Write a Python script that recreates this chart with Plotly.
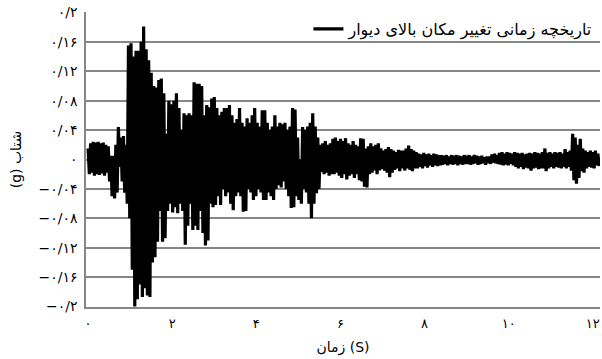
import numpy as np
import plotly.graph_objects as go

# Sampling of the record (s) – one peak every half period
dt = 0.03

# Positive peaks (g), read left to right, one per 0.06 s
peaks_up = [
    0.015, 0.022, 0.024, 0.023, 0.024, 0.022, 0.023, 0.020, 0.018, 0.005,
    0.005, 0.020, 0.044, 0.030, 0.032, 0.020, 0.155, 0.158, 0.140, 0.148,
    0.148, 0.160, 0.181, 0.150, 0.135, 0.118, 0.100, 0.098, 0.108, 0.110,
    0.090, 0.035, 0.080, 0.075, 0.080, 0.090, 0.070, 0.040, 0.063, 0.060,
    0.063, 0.060, 0.105, 0.103, 0.103, 0.100, 0.060, 0.074, 0.071, 0.083,
    0.085, 0.070, 0.060, 0.065, 0.070, 0.070, 0.074, 0.060, 0.050, 0.055,
    0.070, 0.050, 0.045, 0.056, 0.050, 0.060, 0.070, 0.050, 0.045, 0.067,
    0.067, 0.050, 0.040, 0.045, 0.060, 0.045, 0.050, 0.048, 0.050, 0.040,
    0.045, 0.070, 0.068, 0.030, 0.000, 0.044, 0.040, 0.045, 0.050, 0.063,
    0.045, 0.030, 0.020, 0.022, 0.025, 0.020, 0.022, 0.028, 0.030, 0.025,
    0.028, 0.025, 0.029, 0.022, 0.020, 0.025, 0.020, 0.018, 0.029, 0.028,
    0.015, 0.018, 0.022, 0.018, 0.020, 0.022, 0.015, 0.012, 0.014, 0.017,
    0.014, 0.012, 0.010, 0.013, 0.012, 0.012, 0.015, 0.019, 0.014, 0.012,
    0.010, 0.008, 0.007, 0.009, 0.007, 0.008, 0.006, 0.008, 0.007, 0.006,
    0.006, 0.005, 0.006, 0.004, 0.006, 0.005, 0.006, 0.005, 0.004, 0.006,
    0.005, 0.006, 0.004, 0.006, 0.005, 0.004, 0.005, 0.003, 0.004, 0.004,
    0.007, 0.008, 0.006, 0.009, 0.010, 0.008, 0.010, 0.009, 0.008, 0.010,
    0.009, 0.008, 0.009, 0.007, 0.008, 0.009, 0.008, 0.010, 0.009, 0.008,
    0.010, 0.015, 0.009, 0.010, 0.008, 0.010, 0.009, 0.010, 0.008, 0.014,
    0.010, 0.012, 0.035, 0.030, 0.020, 0.028, 0.015, 0.012, 0.010, 0.012,
    0.010, 0.012, 0.008,
]

# Negative peaks (g), one per 0.06 s, between the positive ones
peaks_down = [
    -0.020, -0.018, -0.022, -0.020, -0.021, -0.019, -0.022, -0.018, -0.030, -0.050,
    -0.053, -0.045, -0.010, -0.030, -0.045, -0.060, -0.080, -0.150, -0.200, -0.190,
    -0.170, -0.187, -0.175, -0.185, -0.187, -0.140, -0.133, -0.112, -0.070, -0.112,
    -0.107, -0.070, -0.060, -0.072, -0.065, -0.073, -0.060, -0.070, -0.116, -0.090,
    -0.060, -0.096, -0.090, -0.096, -0.070, -0.100, -0.117, -0.110, -0.060, -0.065,
    -0.062, -0.050, -0.062, -0.040, -0.050, -0.045, -0.060, -0.069, -0.050, -0.045,
    -0.050, -0.071, -0.070, -0.040, -0.045, -0.055, -0.050, -0.040, -0.045, -0.055,
    -0.055, -0.045, -0.050, -0.055, -0.040, -0.035, -0.038, -0.030, -0.040, -0.050,
    -0.066, -0.065, -0.050, -0.055, -0.060, -0.040, -0.045, -0.060, -0.080, -0.060,
    -0.046, -0.040, -0.017, -0.020, -0.018, -0.022, -0.020, -0.020, -0.018, -0.022,
    -0.025, -0.020, -0.027, -0.022, -0.020, -0.025, -0.020, -0.028, -0.030, -0.037,
    -0.038, -0.020, -0.018, -0.015, -0.020, -0.015, -0.013, -0.015, -0.018, -0.024,
    -0.018, -0.014, -0.012, -0.016, -0.012, -0.015, -0.012, -0.014, -0.016, -0.012,
    -0.012, -0.010, -0.012, -0.009, -0.011, -0.008, -0.010, -0.008, -0.009, -0.008,
    -0.007, -0.006, -0.008, -0.006, -0.007, -0.006, -0.008, -0.006, -0.007, -0.006,
    -0.006, -0.007, -0.006, -0.005, -0.007, -0.006, -0.005, -0.007, -0.005, -0.006,
    -0.004, -0.005, -0.006, -0.007, -0.008, -0.007, -0.008, -0.006, -0.008, -0.010,
    -0.012, -0.010, -0.013, -0.011, -0.012, -0.015, -0.012, -0.011, -0.013, -0.012,
    -0.012, -0.016, -0.012, -0.010, -0.012, -0.010, -0.011, -0.012, -0.010, -0.012,
    -0.010, -0.015, -0.028, -0.033, -0.025, -0.016, -0.018, -0.012, -0.010, -0.011,
    -0.012, -0.008, -0.009,
]

x_tick_vals = [0, 2, 4, 6, 8, 10, 12]
x_tick_text = ["۰", "۲", "۴", "۶", "۸", "۱۰", "۱۲"]
y_tick_vals = [0.2, 0.16, 0.12, 0.08, 0.04, 0, -0.04, -0.08, -0.12, -0.16, -0.2]
y_tick_text = ["۰/۲", "۰/۱۶", "۰/۱۲", "۰/۰۸", "۰/۰۴", "۰",
               "−۰/۰۴", "−۰/۰۸", "−۰/۱۲", "−۰/۱۶", "−۰/۲"]

series_name = "تاریخچه زمانی تغییر مکان بالای دیوار"
x_title = "زمان (S)"
y_title = "(g) شتاب"

acc = np.empty(len(peaks_up) + len(peaks_down))
acc[0::2] = peaks_up
acc[1::2] = peaks_down
t = np.arange(len(acc)) * dt

fig = go.Figure()
fig.add_trace(go.Scatter(
    x=t, y=acc, mode="lines", name=series_name,
    line=dict(color="black", width=3.2),
    showlegend=True,
))

font_fam = "DejaVu Sans, Liberation Serif, serif"
fig.update_layout(
    width=602, height=359,
    margin=dict(l=86, r=2, t=12, b=52),
    paper_bgcolor="white", plot_bgcolor="white",
    font=dict(family=font_fam, color="black", size=12),
    showlegend=True,
    legend=dict(x=0.995, xanchor="right", y=1.0, yanchor="top",
                bgcolor="rgba(0,0,0,0)", font=dict(size=16, family=font_fam),
                itemwidth=30),
    xaxis=dict(range=[-0.05, 12.17], tickvals=x_tick_vals, ticktext=x_tick_text,
               showgrid=False, zeroline=False, showline=True, automargin=False,
               linecolor="#868686", linewidth=1.5, ticks="",
               ticklabeloverflow="allow",
               tickfont=dict(size=13), ticklabelstandoff=4,
               title=dict(text=x_title, font=dict(size=14), standoff=12)),
    yaxis=dict(range=[-0.2006, 0.2006], tickvals=y_tick_vals, ticktext=y_tick_text,
               showgrid=True, gridcolor="#868686", gridwidth=1.5, automargin=False,
               zeroline=False, showline=True, linecolor="#868686", linewidth=1.5,
               ticks="", tickfont=dict(size=14), ticklabelstandoff=4,
               ticklabeloverflow="allow",
               title=dict(text=y_title, font=dict(size=14), standoff=14)),
)

fig.write_html("out.html", config={"displayModeBar": False},
               post_script="document.body.style.margin='0';document.body.style.overflow='hidden';")
